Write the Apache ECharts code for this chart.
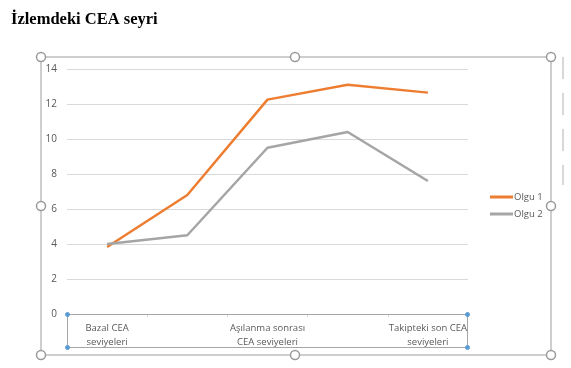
<!DOCTYPE html>
<html>
<head>
<meta charset="utf-8">
<script src="https://cdn.jsdelivr.net/npm/echarts@6/dist/echarts.min.js"></script>
<style>
html,body{margin:0;padding:0;background:#fff;}
#c{width:571px;height:368px;}
</style>
</head>
<body>
<div id="c"></div>
<script>
var categories = ['Bazal CEA\nseviyeleri', '', 'Aşılanma sonrası\nCEA seviyeleri', '', 'Takipteki son CEA\nseviyeleri'];
var olgu1 = [3.83, 6.8, 12.25, 13.1, 12.65];
var olgu2 = [4.0, 4.5, 9.5, 10.4, 7.6];
var yTicks = {min: 0, max: 14, interval: 2};
var seriesNames = ['Olgu 1', 'Olgu 2'];

var chart = echarts.init(document.getElementById('c'), null, {renderer: 'canvas'});

var frameColor = '#bfbfbf';
function handle(x, y) {
  return {type: 'circle', shape: {cx: x, cy: y, r: 4.5}, style: {fill: '#fff', stroke: '#9a9a9a', lineWidth: 1.5}, z: 10};
}
function dot(x, y) {
  return {type: 'circle', shape: {cx: x, cy: y, r: 2}, style: {fill: '#5b9bd5', stroke: '#5b9bd5'}, z: 10};
}

chart.setOption({
  animation: false,
  title: {
    text: 'İzlemdeki CEA seyri',
    left: 6, top: 6,
    textStyle: {fontFamily: 'Liberation Serif', fontWeight: 'bold', fontSize: 16.5, color: '#000'}
  },
  legend: {
    orient: 'vertical',
    left: 485, top: 187,
    itemWidth: 23, itemHeight: 3, itemGap: 7,
    icon: 'rect',
    textStyle: {fontFamily: 'Open Sans', fontSize: 9.5, color: '#595959', padding: [0,0,0,-4]},
    data: seriesNames
  },
  grid: {left: 67, right: 103, top: 69, bottom: 54},
  xAxis: {
    type: 'category',
    data: categories,
    boundaryGap: true,
    axisLine: {lineStyle: {color: '#bfbfbf', width: 1}},
    axisTick: {show: true, length: 3, lineStyle: {color: '#d9d9d9'}},
    axisLabel: {interval: 0, color: '#595959', fontFamily: 'Open Sans', fontSize: 9.5, lineHeight: 14, margin: 7}
  },
  yAxis: {
    type: 'value',
    min: yTicks.min, max: yTicks.max, interval: yTicks.interval,
    axisLine: {show: false},
    axisTick: {show: false},
    splitLine: {lineStyle: {color: '#d9d9d9', width: 1}},
    axisLabel: {color: '#595959', fontFamily: 'Open Sans', fontSize: 10, margin: 10}
  },
  series: [
    {name: seriesNames[0], type: 'line', data: olgu1, symbol: 'none', lineStyle: {color: '#ED7D31', width: 2.5}, itemStyle: {color: '#ED7D31'}},
    {name: seriesNames[1], type: 'line', data: olgu2, symbol: 'none', lineStyle: {color: '#A5A5A5', width: 2.5}, itemStyle: {color: '#A5A5A5'}}
  ],
  graphic: [
    {type: 'rect', shape: {x: 41, y: 57, width: 510, height: 298}, style: {fill: 'none', stroke: frameColor, lineWidth: 1.5}, z: 5},
    {type: 'line', shape: {x1: 563, y1: 57, x2: 563, y2: 185}, style: {stroke: '#b0b0b0', lineWidth: 1, lineDash: [22, 14]}, z: 5},
    {type: 'rect', shape: {x: 67.5, y: 314.5, width: 400, height: 33}, style: {fill: 'none', stroke: '#a6a6a6', lineWidth: 1}, z: 6},
    dot(67.5, 314.5), dot(467.5, 314.5), dot(67.5, 347.5), dot(467.5, 347.5),
    handle(41, 57), handle(295, 57), handle(551, 57),
    handle(41, 206), handle(551, 206),
    handle(41, 355), handle(295, 355), handle(551, 355)
  ]
});
</script>
</body>
</html>
